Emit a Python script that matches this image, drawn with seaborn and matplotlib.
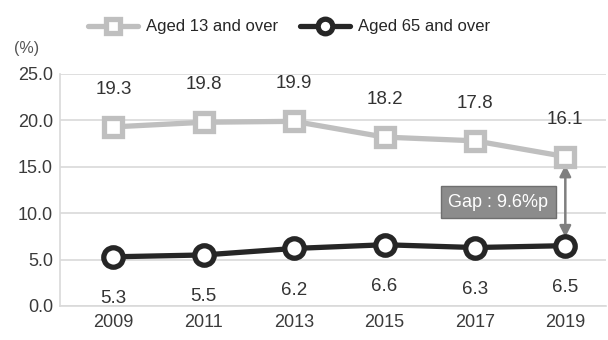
import matplotlib
matplotlib.use("Agg")
import matplotlib.pyplot as plt
import seaborn as sns
import pandas as pd

years = ["2009", "2011", "2013", "2015", "2017", "2019"]
aged13 = [19.3, 19.8, 19.9, 18.2, 17.8, 16.1]
aged65 = [5.3, 5.5, 6.2, 6.6, 6.3, 6.5]
series_names = ["Aged 13 and over", "Aged 65 and over"]
y_ticks = [0.0, 5.0, 10.0, 15.0, 20.0, 25.0]
gap_label = "Gap : 9.6%p"

sns.set_theme(style="white")
plt.rcParams["font.family"] = ["Liberation Sans", "DejaVu Sans"]

df = pd.DataFrame({"year": years * 2,
                   "value": aged13 + aged65,
                   "series": [series_names[0]] * len(years) + [series_names[1]] * len(years)})

fig = plt.figure(figsize=(6.08, 3.40), dpi=100)
ax = fig.add_axes([60 / 608, 34 / 340, 546 / 608, 232 / 340])

light = "#bfbfbf"
dark = "#262626"
styles = {series_names[0]: dict(color=light, marker="s", size=13.5),
          series_names[1]: dict(color=dark, marker="o", size=14)}

for name in series_names:
    sub = df[df["series"] == name]
    sns.lineplot(data=sub, x="year", y="value", ax=ax, color=styles[name]["color"],
                 marker=styles[name]["marker"], markersize=styles[name]["size"],
                 markerfacecolor="white", markeredgecolor=styles[name]["color"],
                 markeredgewidth=3.8, linewidth=3.8, label=name, sort=False,
                 legend=False, zorder=3)

ax.set_ylim(0, 25)
ax.set_xlim(-0.59, 5.45)
ax.set_yticks(y_ticks)
ax.set_yticklabels([f"{v:.1f}" for v in y_ticks], fontsize=13, color="#3a3a3a")
ax.tick_params(axis="x", labelsize=13, colors="#3a3a3a", length=0, pad=6)
ax.tick_params(axis="y", length=0, pad=5)
ax.set_xlabel("")
ax.set_ylabel("")
ax.grid(axis="y", color="#d9d9d9", linewidth=1.2)
for side in ["top", "right"]:
    ax.spines[side].set_visible(False)
ax.spines["left"].set_color("#d9d9d9")
ax.spines["bottom"].set_color("#d9d9d9")
ax.spines["left"].set_linewidth(1.2)
ax.spines["bottom"].set_linewidth(1.2)

for i, v in enumerate(aged13):
    ax.annotate(f"{v:.1f}", (i, v), xytext=(0, 27), textcoords="offset points",
                ha="center", va="center", fontsize=13.5, color="#333333")
for i, v in enumerate(aged65):
    ax.annotate(f"{v:.1f}", (i, v), xytext=(0, -30), textcoords="offset points",
                ha="center", va="center", fontsize=13.5, color="#333333")

# double arrow between the two 2019 values
last = len(years) - 1
ax.annotate("", xy=(last, aged65[-1] + 0.9), xytext=(last, aged13[-1] - 0.9),
            arrowprops=dict(arrowstyle="<|-|>", color="#7f7f7f", lw=1.8,
                            mutation_scale=17, shrinkA=0, shrinkB=0), zorder=2)
ax.text(last - 0.19, 11.2, gap_label, ha="right", va="center", fontsize=13,
        color="white",
        bbox=dict(boxstyle="square,pad=0.42", facecolor="#8c8c8c",
                  edgecolor="#6f6f6f", linewidth=1))

fig.text(14 / 608, 1 - 48 / 340, "(%)", fontsize=11.5, color="#555555",
         ha="left", va="center")

handles, labels = ax.get_legend_handles_labels()
fig.legend(handles, labels, loc="center", bbox_to_anchor=(0.475, 1 - 27 / 340), ncol=2,
           frameon=False, handlelength=3.0, columnspacing=1.3, handletextpad=0.5,
           markerscale=0.75, prop={"size": 12})

fig.savefig("out.png", dpi=100)
